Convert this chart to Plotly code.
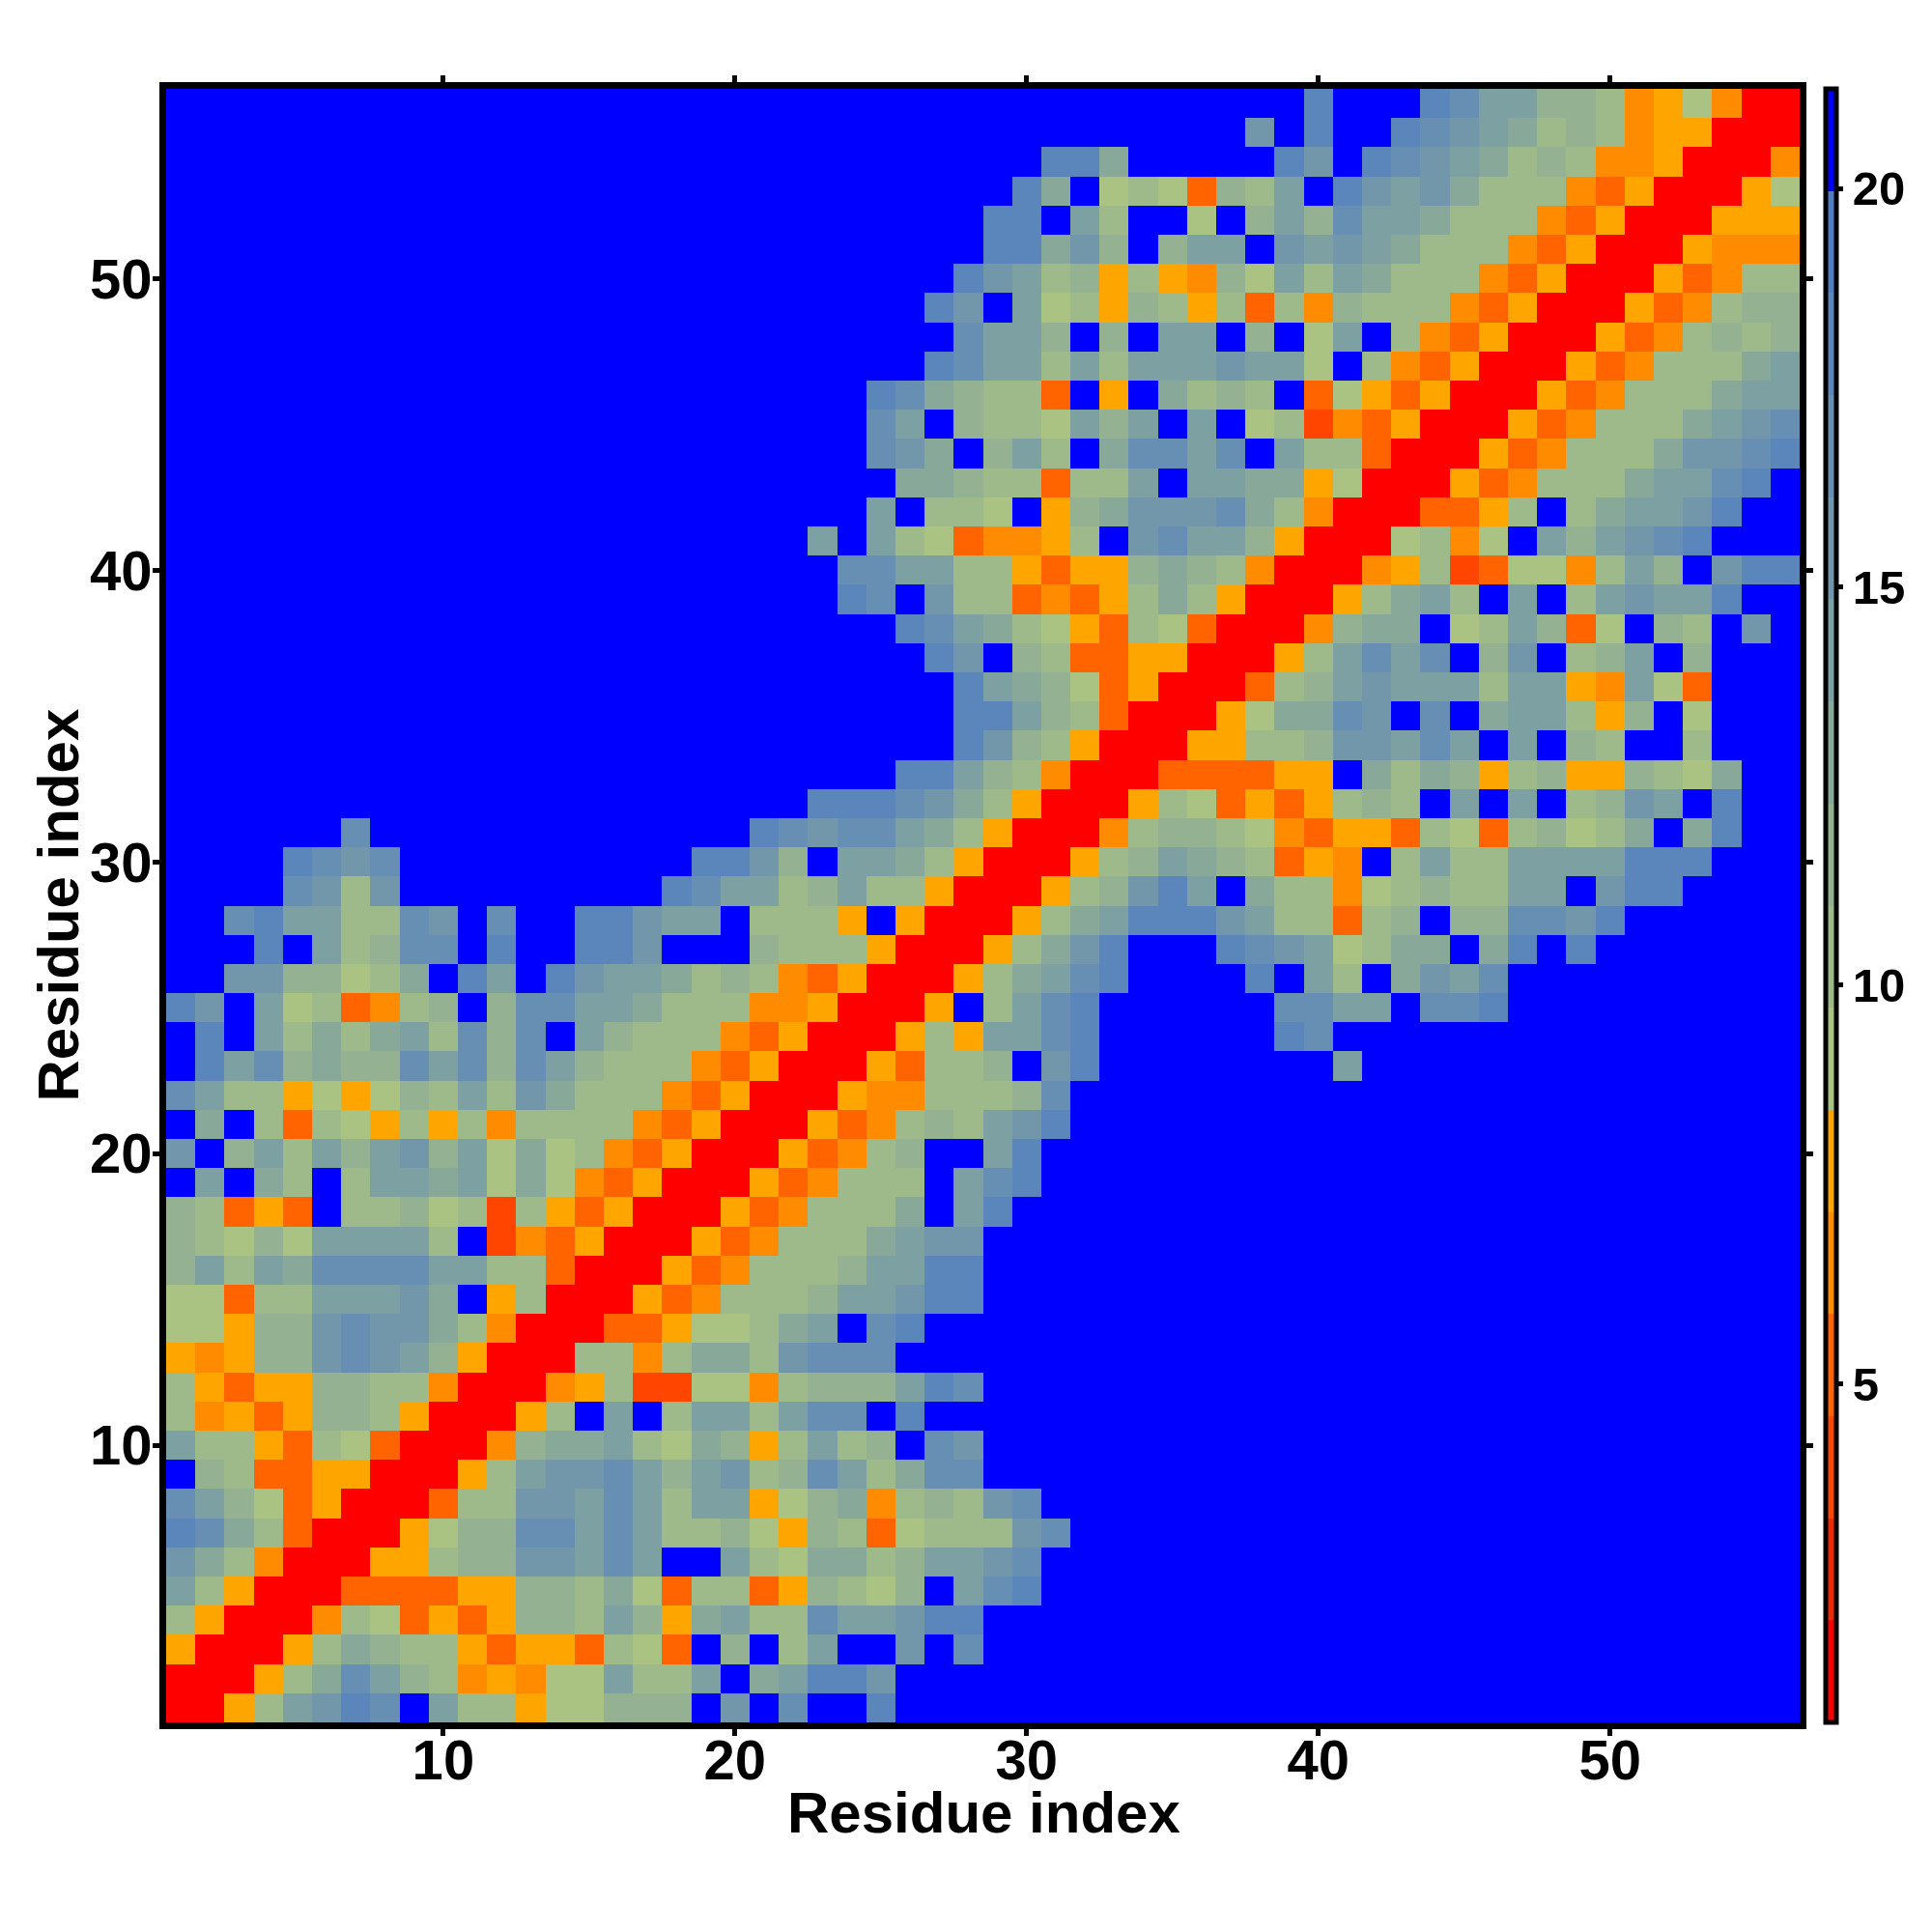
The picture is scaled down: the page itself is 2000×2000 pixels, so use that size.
import plotly.graph_objects as go

residues = list(range(1, 57))
tick_vals = [10, 20, 30, 40, 50]
bar_ticks = [5, 10, 15, 20]
axis_title = "Residue index"

# distance (angstrom) stored per colour level, 0 = closest, f = beyond cut-off
level_codes = "0123456789abcdef"
level_distance = [1.39, 2.67, 3.95, 5.23, 6.52, 7.80, 9.08, 10.36,
                  11.64, 12.92, 14.20, 15.48, 16.77, 18.05, 19.33, 20.61]
level_colors = ["#ff0000", "#f02800", "#ff4500", "#ff6400", "#ff8c00", "#ffa500",
                "#aac382", "#9fba8a", "#94b292", "#88a99a", "#7da0a2", "#7297ab",
                "#678fb3", "#5b86bb", "#507dc3", "#0000ff"]

# upper triangle, row j starts at residue j; cells past the end of a string are beyond cut-off
upper_rows = [
    "0057abdcfa77566888fbfcffd",
    "00579ca8745466a77af9addb",
    "0057987753553763f8f7affbfc",
    "004763535887a859a77caabdd",
    "0033335588796377358768facd",
    "0055788bbacaffa769978aabc",
    "005688ccaca778658736777bc",
    "00377bbaca7aa56894787bc",
    "0057abbca8ab78ca79cc",
    "004899a769857a78fcb",
    "0057faf7aa7accfd",
    "00457226647888adc",
    "007747997bccc",
    "003356679afcd",
    "005347778aabdd",
    "005347778aadd",
    "005347779abb",
    "005347779fad",
    "00534777facd",
    "0053478ffad",
    "00534787abd",
    "005447778c",
    "0053778fbdffffffffa",
    "00575aacdffffffdc",
    "005f7acdffffffccaafccd",
    "00579acdffffdfa7f9bac",
    "00579bdfffdcba6799f9dfd",
    "00579adddba77378f88ccbd",
    "00578bdaf977467877aafbdd",
    "00578a987354f7a77aaaaddd",
    "004788764355376378679f9d",
    "005763535787fafaf78bafd",
    "00333355f9798578558769",
    "0055778bbacafaf87ff7",
    "005699cbfcf9aa758f6",
    "00378abaaa7aa54a63",
    "0057acacf8bf78af8",
    "004899f67a836f87fb",
    "00579a7faf7abaad",
    "00457236647a8fbdd",
    "006746fa8abcd",
    "003357f79aabd",
    "005347779aacd",
    "005347779bbcd",
    "005347779abc",
    "005347779aa",
    "005347779a",
    "005347878",
    "00534788",
    "0053477",
    "005444",
    "00555",
    "0056",
    "004",
    "00",
    "0",
]

n = len(residues)
z = [[level_distance[-1]] * n for _ in range(n)]
for j, row in enumerate(upper_rows):
    for k, code in enumerate(row):
        i = j + k
        value = level_distance[level_codes.index(code)]
        z[j][i] = value
        z[i][j] = value

colorscale = []
for k, c in enumerate(level_colors):
    colorscale.append([k / 16, c])
    colorscale.append([(k + 1) / 16, c])

FONT = "Liberation Sans"
PAGE = 8  # the page's body margin shifts everything by this much
L, R, T, B = 172 - PAGE, 1863 - PAGE, 92 - PAGE, 1783 - PAGE
S = 2000

fig = go.Figure(go.Heatmap(
    x=residues, y=residues, z=z,
    zmin=0.75, zmax=21.25, colorscale=colorscale,
    colorbar=dict(
        thicknessmode="pixels", thickness=11,
        lenmode="fraction", len=(B - T) / S,
        x=(1889.5 - PAGE) / S, xanchor="left", xpad=0,
        y=1 - B / S, yanchor="bottom", ypad=0,
        outlinecolor="black", outlinewidth=5, borderwidth=0,
        tickmode="array", tickvals=bar_ticks, ticks="outside",
        ticklen=5, tickwidth=5, tickcolor="black",
        tickfont=dict(family=FONT, size=49, color="black", weight=700),
    ),
))

axis = dict(
    range=[0.5, 56.5], tickmode="array", tickvals=tick_vals,
    ticks="outside", ticklen=7, tickwidth=5, tickcolor="black",
    showline=True, linecolor="black", linewidth=7, mirror="ticks",
    showgrid=False, zeroline=False,
    tickfont=dict(family=FONT, size=58, color="black", weight=700),
)
title_font = dict(family=FONT, size=60, color="black", weight=700)
fig.update_layout(
    width=S, height=S, autosize=False,
    margin=dict(l=0, r=0, t=0, b=0),
    paper_bgcolor="white", plot_bgcolor="white",
    xaxis=dict(axis, domain=[L / S, R / S], ticklabelstandoff=-25),
    yaxis=dict(axis, domain=[1 - B / S, 1 - T / S], ticklabelstandoff=-11),
    annotations=[
        dict(text=axis_title, font=title_font, showarrow=False,
             xref="x domain", yref="y domain", x=0.5, y=0,
             xanchor="center", yanchor="middle", xshift=1, yshift=-94),
        dict(text=axis_title, font=title_font, showarrow=False, textangle=-90,
             xref="x domain", yref="y domain", x=0, y=0.5,
             xanchor="center", yanchor="middle", xshift=-112),
    ],
)
fig.write_html("out.html")
